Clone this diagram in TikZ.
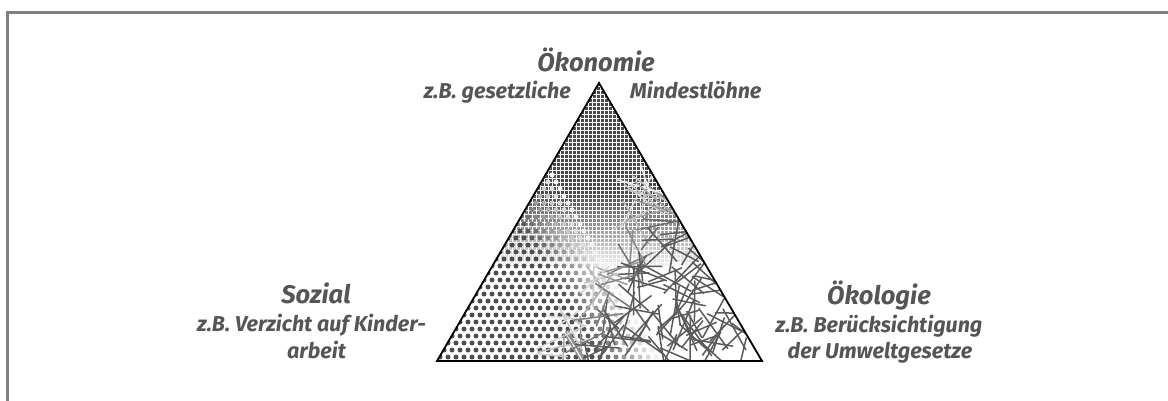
\documentclass[tikz,border=0pt]{standalone}
\usepackage{fontspec}
\setmainfont{Fira Sans}
\definecolor{txt}{HTML}{555555}
\definecolor{framec}{HTML}{808080}
\definecolor{gridc}{HTML}{4A4A4A}
\definecolor{dotc}{HTML}{4E4E4E}
\definecolor{linec}{HTML}{5A5A5A}
\begin{document}
\begin{tikzpicture}[x=1pt,y=-1pt,
  title/.style={font=\fontsize{25.5}{28}\selectfont\bfseries\itshape, text=txt, anchor=base, inner sep=0pt},
  sub/.style={font=\fontsize{21.5}{24}\selectfont\bfseries\itshape, text=txt, anchor=base, inner sep=0pt},
]
\useasboundingbox (0,0) rectangle (1168,401);
\draw[framec, line width=3pt] (7.5,401) -- (7.5,12.5) -- (1168,12.5);
\coordinate (A) at (599,83);
\coordinate (L) at (437,361);
\coordinate (R) at (762,361);
\begin{scope}
\clip (A) -- (L) -- (R) -- cycle;
% grid (Oekonomie)
\foreach \j in {0,...,69}{
  \foreach \i in {0,...,81}{
    \pgfmathsetmacro\xx{437+4*\i}
    \pgfmathsetmacro\yy{83+4*\j}
    \pgfmathsetmacro\wa{(361-\yy-2)/278}
    \pgfmathsetmacro\op{100*max(0,min(1,(\wa-0.32)/0.28))}
    \ifdim\op pt>4pt
      \fill[gridc!\op!white] (\xx,\yy) rectangle ++(3,3);
    \fi
  }
}
% dots (Sozial)
\foreach \j in {0,...,40}{
  \foreach \i in {0,...,42}{
    \pgfmathsetmacro\yy{364-7*\j}
    \pgfmathsetmacro\xx{428+8*\i+4*mod(\j,2)}
    \pgfmathsetmacro\wa{(361-\yy)/278}
    \pgfmathsetmacro\wr{(\xx-437-\wa*162)/325}
    \pgfmathsetmacro\wl{1-\wa-\wr}
    \pgfmathsetmacro\op{100*max(0,min(1,(\wl-0.3)/0.2))}
    \ifdim\op pt>4pt
      \fill[dotc!\op!white] (\xx,\yy) circle (2.5);
    \fi
  }
}
% sticks (Oekologie)
\pgfmathsetseed{4242}
\foreach \k in {1,...,300}{
  \pgfmathsetmacro\ru{rnd}
  \pgfmathsetmacro\rv{rnd}
  \pgfmathsetmacro\flip{(\ru+\rv>1)}
  \pgfmathsetmacro\ru{\flip>0.5 ? 1-\ru : \ru}
  \pgfmathsetmacro\rv{\flip>0.5 ? 1-\rv : \rv}
  \pgfmathsetmacro\px{599-162*\ru+163*\rv}
  \pgfmathsetmacro\py{83+278*(\ru+\rv)}
  \pgfmathsetmacro\op{100*max(0,min(1,(\rv-0.3)/0.15))}
  \pgfmathsetmacro\ang{180*rnd}
  \pgfmathsetmacro\len{14+14*rnd}
  \ifdim\op pt>10pt
    \draw[linec!\op!white, line width=1.5pt] (\px,\py) +(\ang:\len) -- +(\ang+180:\len);
  \fi
}
\end{scope}
\draw[line width=1.8pt, line join=miter] (A) -- (L) -- (R) -- cycle;
% texts
\node[title] (oek) at (596,72) {Ökonomie};
\node[sub, anchor=base east] (oekl) at (571,99) {z.B. gesetzliche};
\node[sub, anchor=base west] (oekr) at (630,99) {Mindestlöhne};
\node[title] (soz) at (316,303) {Sozial};
\node[sub] (soz1) at (311.5,331) {z.B. Verzicht auf Kinder-};
\node[sub] (soz2) at (316.5,358) {arbeit};
\node[title] (okl) at (879,304) {Ökologie};
\node[sub] (okl1) at (879,332) {z.B. Berücksichtigung};
\node[sub] (okl2) at (880,358) {der Umweltgesetze};
\end{tikzpicture}
\end{document}
